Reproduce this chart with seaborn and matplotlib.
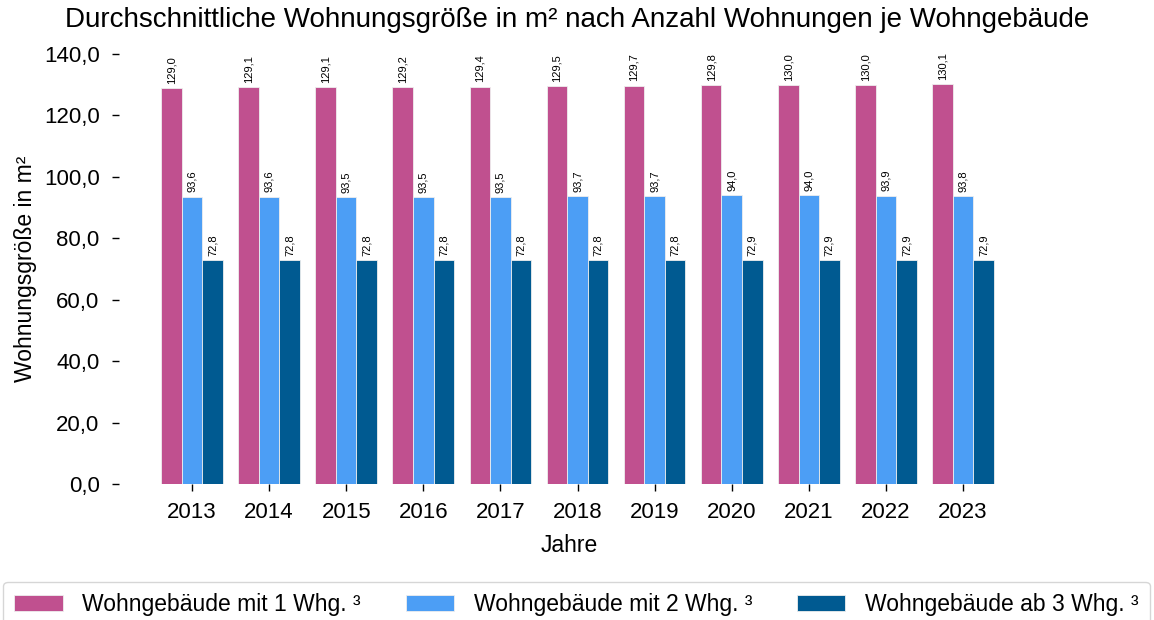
import numpy as np
import pandas as pd
import matplotlib
matplotlib.use("Agg")
import matplotlib.pyplot as plt
import seaborn as sns

years = ["2013", "2014", "2015", "2016", "2017", "2018", "2019", "2020", "2021", "2022", "2023"]
one_flat = [129.0, 129.1, 129.1, 129.2, 129.4, 129.5, 129.7, 129.8, 130.0, 130.0, 130.1]
two_flats = [93.6, 93.6, 93.5, 93.5, 93.5, 93.7, 93.7, 94.0, 94.0, 93.9, 93.8]
three_plus = [72.8, 72.8, 72.8, 72.8, 72.8, 72.8, 72.8, 72.9, 72.9, 72.9, 72.9]
series_names = ["Wohngebäude mit 1 Whg. ³", "Wohngebäude mit 2 Whg. ³", "Wohngebäude ab 3 Whg. ³"]
colors = ["#C0508F", "#4C9EF5", "#005A91"]

df = pd.DataFrame({
    "Jahr": years * 3,
    "Wert": one_flat + two_flats + three_plus,
    "Serie": [series_names[0]] * len(years) + [series_names[1]] * len(years) + [series_names[2]] * len(years),
})

sns.set_style("white")
plt.rcParams["font.family"] = ["Liberation Sans", "DejaVu Sans"]
plt.rcParams["text.color"] = "black"
plt.rcParams["axes.labelcolor"] = "black"
plt.rcParams["xtick.color"] = "black"
plt.rcParams["ytick.color"] = "black"

fig = plt.figure(figsize=(11.54, 6.2), dpi=100)
# axes box in pixels: left 119, bottom 484, top 54
ax = fig.add_axes([119 / 1154, (620 - 484) / 620, 0.78, 430 / 620])

sns.barplot(data=df, x="Jahr", y="Wert", hue="Serie", palette=colors, saturation=1,
            width=0.8, edgecolor="#eeeeee", linewidth=0.6, ax=ax)

for cont in ax.containers:
    labels = [f"{v:.1f}".replace(".", ",") for v in cont.datavalues]
    ax.bar_label(cont, labels=labels, rotation=90, fontsize=8, padding=3)

# 77.1 px per year
ax.set_ylim(0, 140)
xmin = -0.947
ax.set_xlim(xmin, xmin + 0.78 * 1154 / 77.1)
ax.set_yticks(np.arange(0, 141, 20))
ax.set_yticklabels([f"{v:.1f}".replace(".", ",") for v in np.arange(0, 141, 20)])
ax.tick_params(axis="y", length=5, width=1, labelsize=16, pad=9, left=True)
ax.tick_params(axis="x", length=5, width=1, labelsize=16, pad=8, bottom=True)
sns.despine(ax=ax, left=True, bottom=True)

ax.set_xlabel("Jahre", fontsize=16.5, labelpad=8)
ax.set_ylabel("Wohnungsgröße in m²", fontsize=16.5, labelpad=5)
fig.text(0.5, 1 - 20 / 620, "Durchschnittliche Wohnungsgröße in m² nach Anzahl Wohnungen je Wohngebäude",
         fontsize=20, ha="center", va="center")

handles, lbls = ax.get_legend_handles_labels()
ax.legend_.remove()
fig.legend(handles, lbls, loc="lower left", bbox_to_anchor=(3 / 1154, -0.012, 1147 / 1154, 0.08),
           mode="expand", ncol=3, fontsize=16.5, frameon=True, edgecolor="#cccccc",
           fancybox=True, handlelength=2.1, handleheight=0.75, handletextpad=0.85,
           borderpad=0.5, borderaxespad=0)

fig.savefig("out.png", dpi=100)
plt.close(fig)
